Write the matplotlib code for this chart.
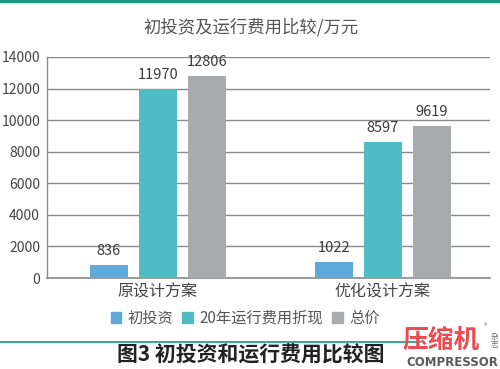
import numpy as np
import matplotlib
matplotlib.use("Agg")
import matplotlib.pyplot as plt
from matplotlib.patches import Rectangle
from matplotlib.lines import Line2D

plt.rcParams['font.family'] = ['Noto Sans CJK SC', 'DejaVu Sans']

# 数据
categories = ['原设计方案', '优化设计方案']
series_names = ['初投资', '20年运行费用折现', '总价']
initial_cost = [836, 1022]
running_cost = [11970, 8597]
total_cost = [12806, 9619]
y_ticks = [0, 2000, 4000, 6000, 8000, 10000, 12000, 14000]

colors = ['#5fa8dc', '#4fbcc3', '#a8abae']

fig = plt.figure(figsize=(5.0, 3.69), dpi=100)
fig.patch.set_facecolor('white')

ax = fig.add_axes([0.094, 0.2466, 0.886, 0.599])
ax.set_facecolor('white')

x = np.arange(len(categories))
offsets = [-0.218, 0.0, 0.218]
width = 0.169
for vals, off, c in zip([initial_cost, running_cost, total_cost], offsets, colors):
    bars = ax.bar(x + off, vals, width=width, color=c, zorder=3)
    for b, v in zip(bars, vals):
        ax.text(b.get_x() + b.get_width() / 2, v + 450, str(v),
                ha='center', va='bottom', fontsize=10.5, color='#3a3a3a')

ax.set_ylim(0, 14000)
ax.set_xlim(-0.493, 1.476)
ax.set_yticks(y_ticks)
ax.set_yticklabels([str(t) for t in y_ticks], fontsize=10, color='#444444')
ax.set_xticks(x)
ax.set_xticklabels(categories, fontsize=11.5, color='#444444')
ax.tick_params(axis='both', length=0, pad=4)
ax.tick_params(axis='y', pad=5)
ax.grid(axis='y', color='#8a8a8a', linewidth=1.0, zorder=0)
for s in ['top', 'right']:
    ax.spines[s].set_visible(False)
ax.spines['left'].set_color('#8a8a8a')
ax.spines['bottom'].set_color('#8a8a8a')
ax.spines['left'].set_linewidth(1.0)
ax.spines['bottom'].set_linewidth(1.2)

# 标题
fig.text(0.502, 0.926, '初投资及运行费用比较/万元', ha='center', va='center',
         fontsize=12.5, color='#555555')

# 图例
handles = [Rectangle((0, 0), 1, 1, color=c) for c in colors]
fig.legend(handles, series_names, loc='center', bbox_to_anchor=(0.49, 0.138),
           ncol=3, frameon=False, fontsize=11, handlelength=0.7, handleheight=0.7,
           handletextpad=0.4, columnspacing=0.6, labelcolor='#555555')

# 顶部与底部装饰线
fig.add_artist(Line2D([0, 1], [0.997, 0.997], color='#1a9a85', linewidth=2.5,
                      transform=fig.transFigure))
fig.add_artist(Line2D([0, 0.84], [0.073, 0.073], color='#1a9a85', linewidth=1.2,
                      transform=fig.transFigure))

# 图注
fig.text(0.502, 0.038, '图3 初投资和运行费用比较图', ha='center', va='center',
         fontsize=15, fontweight='semibold', color='#222222')

# 刊物标志
fig.text(0.883, 0.078, '压缩机', ha='center', va='center', fontsize=18.5,
         fontweight='bold', color='#ec4a50')
fig.text(0.988, 0.075, '杂\n志', ha='center', va='center', fontsize=5.5,
         color='#666666', linespacing=1.0)
fig.text(0.972, 0.115, '®', ha='center', va='center', fontsize=5, color='#666666')
fig.text(0.905, 0.018, 'COMPRESSOR', ha='center', va='center', fontsize=8.5,
         fontweight='bold', color='#5a5a5a', family=['DejaVu Sans'])

fig.savefig('out.png', dpi=100, facecolor='white')
